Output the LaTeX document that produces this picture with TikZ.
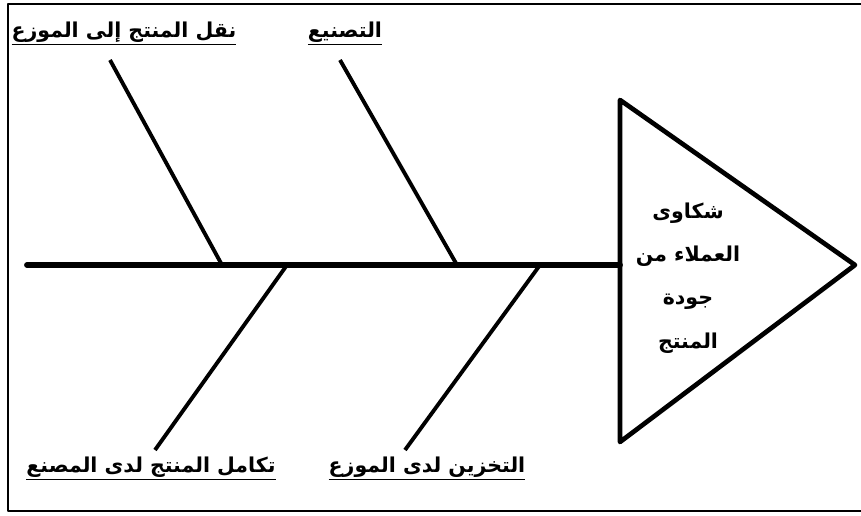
\documentclass[tikz,border=0pt]{standalone}
\usepackage{fontspec}
\usepackage{tikz}
\usetikzlibrary{calc}
\TeXXeTstate=1
\newfontfamily\arabicfont[Script=Arabic,BoldFont={DejaVu Sans Bold}]{DejaVu Sans}
\newcommand{\ar}[1]{{\arabicfont\bfseries\beginR #1\endR}}

\begin{document}
\begin{tikzpicture}[x=0.03cm,y=-0.03cm,line join=round,
    rahmen/.style={line width=1.2pt},
    spine/.style={line width=5pt,line cap=round},
    bone/.style={line width=3.3pt},
    kopf/.style={line width=4pt},
    grund/.style={font=\fontsize{17.5}{20}\selectfont,inner sep=1pt},
    kopftext/.style={font=\fontsize{17.5}{37}\selectfont,align=center}]
  \useasboundingbox (0,0) rectangle (861,516);
  % frame
  \draw[rahmen] (8,4) rectangle (866,511);
  % spine and head
  \coordinate (tail) at (27,265);
  \coordinate (mund) at (620,265);
  \draw[spine] (tail) -- (mund);
  \coordinate (kopfA) at (620,100);
  \coordinate (kopfB) at (855,265);
  \coordinate (kopfC) at (620,442);
  \draw[kopf] (kopfA) -- (kopfB) -- (kopfC) -- cycle;
  \node[kopftext] (effekt) at (688,278)
    {\ar{شكاوى}\\ \ar{العملاء من}\\ \ar{جودة}\\ \ar{المنتج}};
  % causes
  \node[grund] (transport) at (124,33) {\underline{\ar{نقل المنتج إلى الموزع}}};
  \node[grund] (fertigung) at (345,33) {\underline{\ar{التصنيع}}};
  \node[grund] (integration) at (151,468) {\underline{\ar{تكامل المنتج لدى المصنع}}};
  \node[grund] (lager) at (427,468) {\underline{\ar{التخزين لدى الموزع}}};
  % bones
  \coordinate (b1) at (110,60);  \coordinate (s1) at (222,265);
  \coordinate (b2) at (340,60);  \coordinate (s2) at (457,265);
  \coordinate (b3) at (155,450); \coordinate (s3) at (287,265);
  \coordinate (b4) at (405,450); \coordinate (s4) at (540,265);
  \draw[bone] (b1) -- (s1);
  \draw[bone] (b2) -- (s2);
  \draw[bone] (s3) -- (b3);
  \draw[bone] (s4) -- (b4);
\end{tikzpicture}
\end{document}
